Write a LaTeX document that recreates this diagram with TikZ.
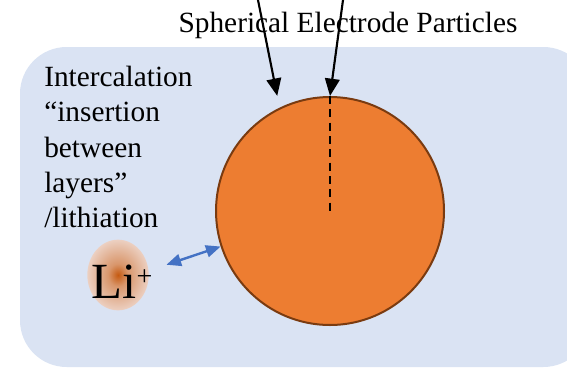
\documentclass[tikz,border=0pt]{standalone}
\usepackage{fontspec}
\setmainfont{Liberation Serif}
\usetikzlibrary{positioning, arrows.meta, shapes.geometric}
\definecolor{bgc}{HTML}{DAE3F3}
\definecolor{partc}{HTML}{ED7D31}
\definecolor{rimc}{HTML}{7A3B10}
\definecolor{ionc}{HTML}{C55A11}
\definecolor{glowc}{HTML}{EDD3C6}
\definecolor{linkc}{HTML}{4472C4}
\pgfdeclareradialshading{ionglow}{\pgfpoint{0bp}{0bp}}{%
  color(0bp)=(ionc); color(8bp)=(ionc!50!glowc); color(26bp)=(glowc);
  color(50bp)=(glowc!35!bgc)}

\begin{document}
\begin{tikzpicture}[
  x=0.75pt, y=-0.75pt,
  font=\fontsize{22}{26.4}\selectfont,
  >={Triangle[length=13pt, width=11pt]},
  part/.style={circle, draw=rimc, line width=1.5pt, fill=partc, minimum size=171pt, inner sep=0pt},
  ion/.style={ellipse, shading=ionglow, minimum width=46pt, minimum height=53pt, inner sep=0pt},
  iontext/.style={inner sep=0pt, font=\fontsize{38}{42}\selectfont},
  arr/.style={->, line width=1.6pt, draw=black},
  biarr/.style={<->, line width=1.8pt, draw=linkc, >={Triangle[length=11pt, width=9pt]}},
  core/.style={line width=1.5pt, dash pattern=on 6pt off 4pt},
]
\useasboundingbox (0,0) rectangle (567,368);
\clip (0,0) rectangle (567,368);

% ---------------- background panel ----------------
\fill[bgc, rounded corners=35pt] (20,47) rectangle (590,367);

% ---------------- title ----------------
\node (label) at (348,25) {Spherical Electrode Particles};

% ---------------- particle ----------------
\node[part] (part) at (330,211) {};
\draw[core] (part.north) -- (part.center);

% ---------------- pointers (drawn over the title) ----------------
\coordinate (tailL) at (258,0);
\coordinate (tailR) at (343,0);
\draw[arr, shorten >=9pt] (tailL) -- (part.116);
\draw[arr] (tailR) -- (part.north);

% ---------------- note ----------------
\node[anchor=north west, align=left, inner sep=0pt] (note) at (44,66)
  {Intercalation\\“insertion\\between\\layers”\\/lithiation};

% ---------------- lithium ion ----------------
\node[ion] (ion) at (118,275) {};
\node[iontext] (litext) at (122,282) {Li\raisebox{10pt}{\fontsize{21}{21}\selectfont +}};
\draw[biarr, shorten <=14pt] (ion.8) -- (part.198);

\end{tikzpicture}
\end{document}
